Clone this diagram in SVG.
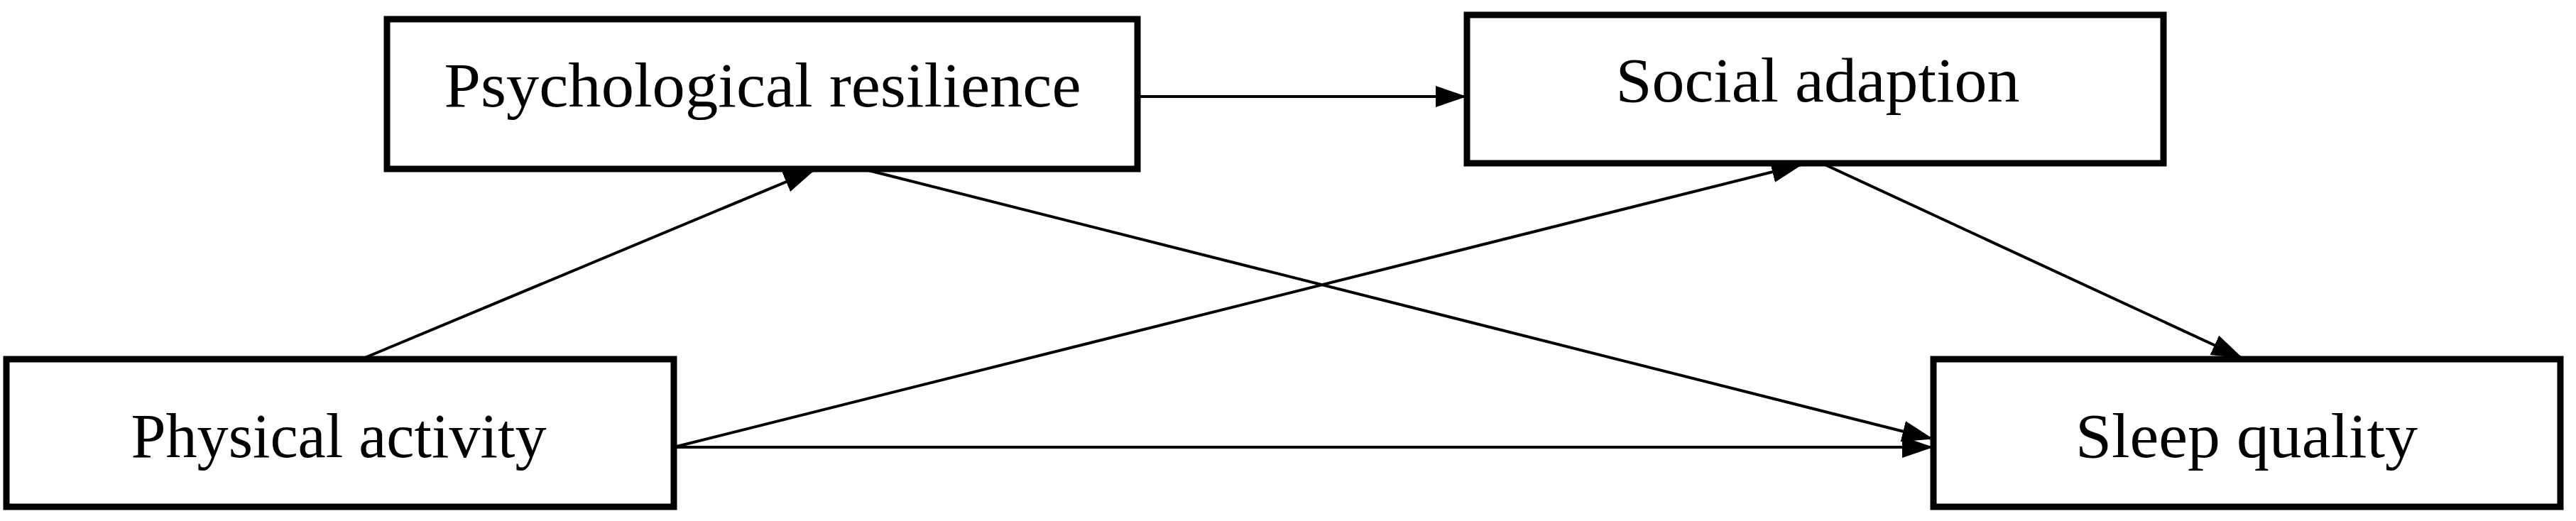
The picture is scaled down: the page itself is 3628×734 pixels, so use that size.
<svg xmlns="http://www.w3.org/2000/svg" width="3628" height="734" viewBox="0 0 3628 734">
<style>
.box{fill:#fff;stroke:#000;stroke-width:9}
.lbl{font-family:"Liberation Serif",serif;font-size:88px;text-anchor:middle;fill:#000}
.c{stroke:#000;stroke-width:4;fill:none;marker-end:url(#ah)}
</style>
<defs>
<marker id="ah" markerUnits="userSpaceOnUse" markerWidth="44" markerHeight="30" refX="42" refY="15" orient="auto">
<path d="M0,0 L44,15 L0,30 Z" fill="#000"/>
</marker>
</defs>
<rect width="3628" height="734" fill="#fff"/>
<g id="connectors">
<line class="c" x1="1602" y1="136" x2="2064" y2="136"/>
<line class="c" x1="509" y1="506" x2="1146" y2="240"/>
<line class="c" x1="1215" y1="238" x2="2721" y2="618"/>
<line class="c" x1="949" y1="630" x2="2537" y2="232"/>
<line class="c" x1="949" y1="630" x2="2721" y2="630"/>
<line class="c" x1="2566" y1="230" x2="3157" y2="504"/>
</g>
<g id="psych"><rect class="box" x="545" y="27" width="1057" height="211"/><text class="lbl" x="1074" y="150" textLength="897" lengthAdjust="spacingAndGlyphs">Psychological resilience</text></g>
<g id="social"><rect class="box" x="2066" y="21" width="981" height="209"/><text class="lbl" x="2560" y="143" textLength="569" lengthAdjust="spacingAndGlyphs">Social adaption</text></g>
<g id="physical"><rect class="box" x="9" y="506" width="940" height="208"/><text class="lbl" x="477" y="644" textLength="585" lengthAdjust="spacingAndGlyphs">Physical activity</text></g>
<g id="sleep"><rect class="box" x="2723" y="506" width="883" height="208"/><text class="lbl" x="3164" y="644" textLength="482" lengthAdjust="spacingAndGlyphs">Sleep quality</text></g>
</svg>
